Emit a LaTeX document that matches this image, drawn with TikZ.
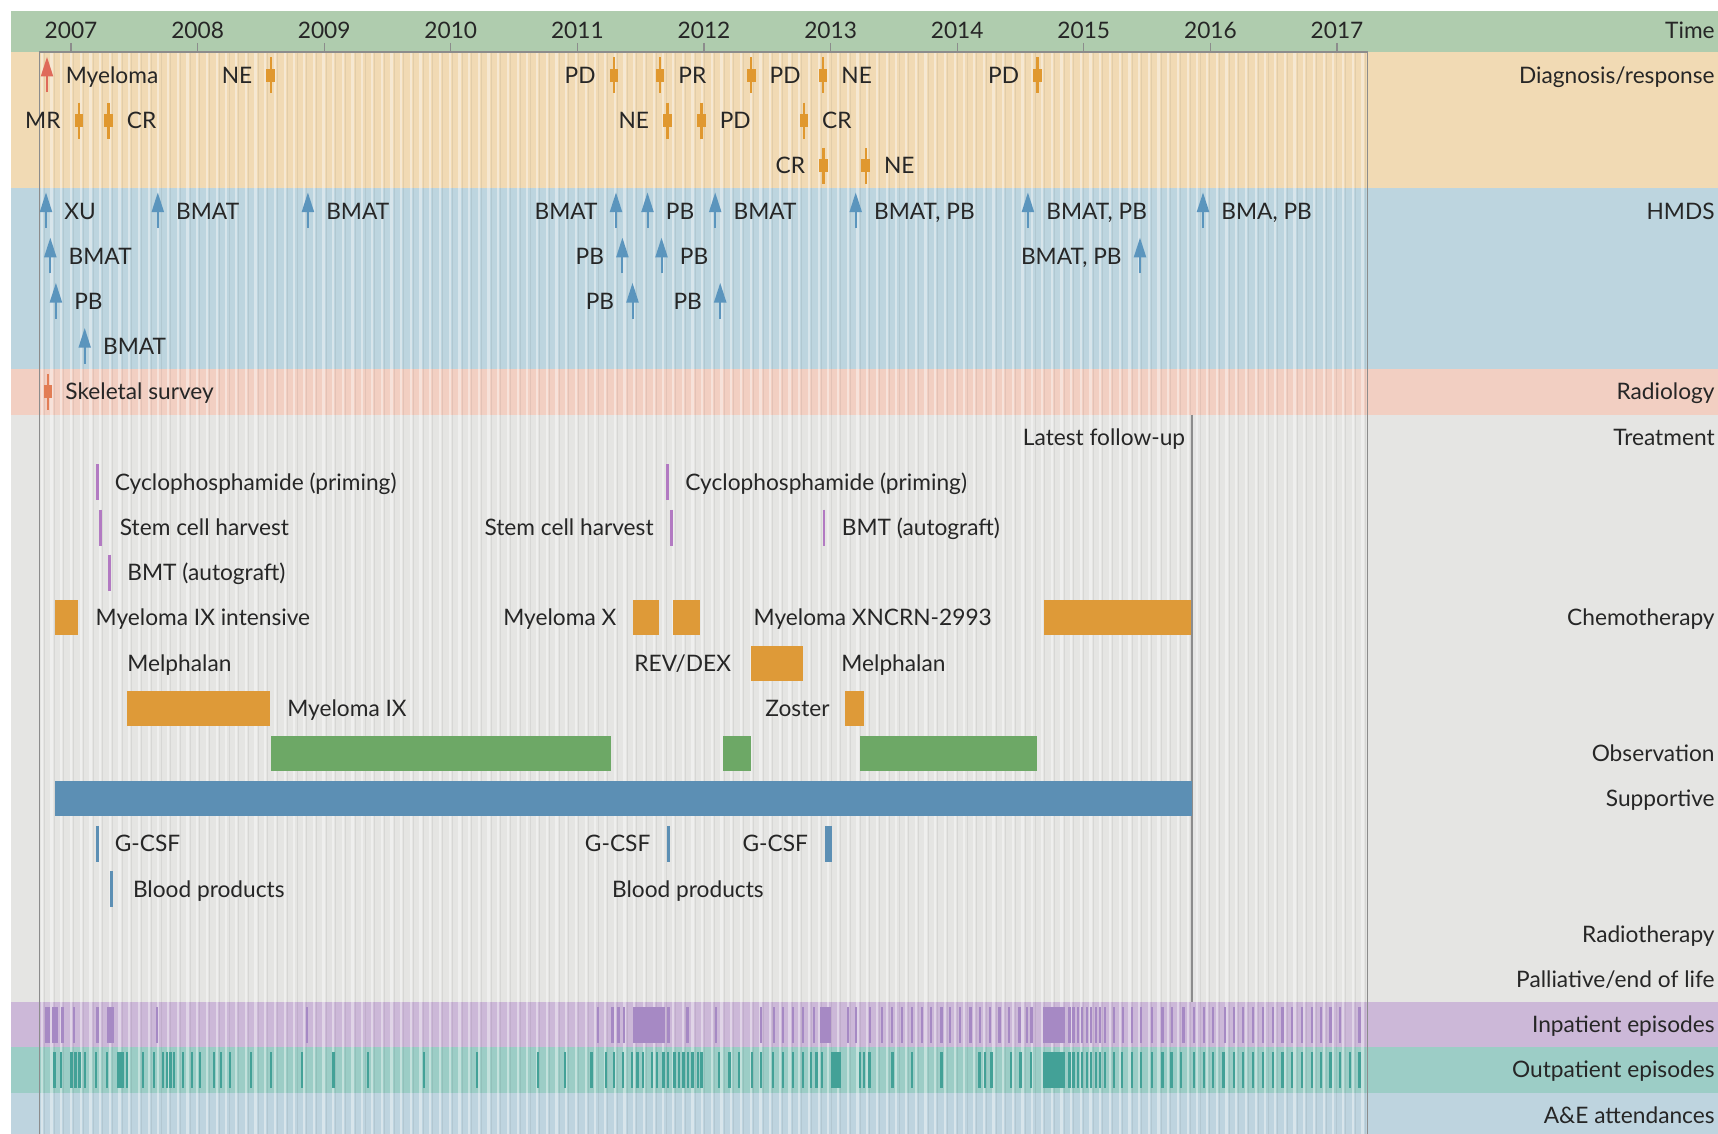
\documentclass[tikz,border=0pt]{standalone}
\usepackage{fontspec}
\setmainfont{Lato}
\definecolor{txtc}{HTML}{262626}
\definecolor{timec}{HTML}{AFCCAE}
\definecolor{diagc}{HTML}{F1DAB4}
\definecolor{hmdsc}{HTML}{BDD5DF}
\definecolor{radbg}{HTML}{F2CFC2}
\definecolor{treatc}{HTML}{E5E5E3}
\definecolor{inpc}{HTML}{CCB8D8}
\definecolor{outc}{HTML}{9CCDC6}
\definecolor{aec}{HTML}{BED4DF}
\definecolor{orc}{HTML}{E0982F}
\definecolor{obarc}{HTML}{DE9A38}
\definecolor{redc}{HTML}{DF6A5A}
\definecolor{bluec}{HTML}{5B95BD}
\definecolor{radc}{HTML}{E27D55}
\definecolor{purc}{HTML}{B27AC2}
\definecolor{greenc}{HTML}{6DA866}
\definecolor{bbarc}{HTML}{5C8FB4}
\definecolor{inpbar}{HTML}{A689C4}
\definecolor{outbar}{HTML}{43A197}
\definecolor{framec}{HTML}{8C8C8C}
\newcommand\Lab[5]{\node[txt,anchor=base #2] (#1) at (#3,#4+8) {#5};}
\newcommand\dmk[3]{\draw[#1,line width=1.1pt] (#2,#3-18) -- (#2,#3+18);
  \fill[#1] (#2-4.3,#3-6.5) rectangle (#2+4.3,#3+6.5);}
\newcommand\uarr[3]{\draw[#1,line width=1pt] (#2,#3+17) -- (#2,#3-8);
  \fill[#1] (#2,#3-18.5) -- (#2+6.3,#3+1) -- (#2-6.3,#3+1) -- cycle;}
\newcommand\tck[3]{\draw[#1,line width=1.35pt] (#2,#3-18) -- (#2,#3+18);}
\newcommand\evbar[4]{\fill[#1] (#2,#4-17.5) rectangle (#3,#4+17.5);}
\begin{document}
\begin{tikzpicture}[x=0.5pt,y=-0.5pt,
  txt/.style={font=\fontsize{11.35}{13}\selectfont,text=txtc,inner sep=0pt},
  rlab/.style={txt,anchor=base east}]
\useasboundingbox (0,0) rectangle (1718,1134);
\fill[white] (0,0) rectangle (1718,1134);
% bands
\fill[timec] (11,11) rectangle (1718,52);
\fill[diagc] (11,52) rectangle (1718,188.5);
\fill[hmdsc] (11,188.5) rectangle (1718,369.3);
\fill[radbg] (11,369.3) rectangle (1718,414.5);
\fill[treatc] (11,414.5) rectangle (1718,1002.1);
\fill[inpc] (11,1002.1) rectangle (1718,1047.3);
\fill[outc] (11,1047.3) rectangle (1718,1092.5);
\fill[aec] (11,1092.5) rectangle (1718,1134);
% grid
\foreach \i in {-3,...,133}{
  \pgfmathsetmacro\gx{71+9.71*\i}
  \draw[white,opacity=0.4,line width=1.1pt] (\gx,52) -- (\gx,1134);
  \draw[black,opacity=0.06,line width=0.4pt] (\gx+2.6,52) -- (\gx+2.6,1134);
}
% frame and axis
\draw[framec,line width=0.7pt] (39.5,1134) -- (39.5,52) -- (1367.5,52) -- (1367.5,1134);
\foreach \yr [count=\k from 0] in {2007,...,2017}{
  \pgfmathsetmacro\tx{71+126.6*\k}
  \draw[framec,line width=0.6pt] (\tx,43) -- (\tx,52);
  \node[txt,anchor=base] (y\yr) at (\tx,38.3) {\yr};
}
% right labels
\node[rlab] (rTime) at (1715,38.3) {Time};
\node[rlab] (rDiag) at (1715,83.5) {Diagnosis/response};
\node[rlab] (rHMDS) at (1715,219.1) {HMDS};
\node[rlab] (rRad) at (1715,399.9) {Radiology};
\node[rlab] (rTreat) at (1715,445.1) {Treatment};
\node[rlab] (rChemo) at (1715,625.9) {Chemotherapy};
\node[rlab] (rObs) at (1715,761.5) {Observation};
\node[rlab] (rSup) at (1715,806.7) {Supportive};
\node[rlab] (rRadio) at (1715,942.3) {Radiotherapy};
\node[rlab] (rPall) at (1715,987.5) {Palliative/end of life};
\node[rlab] (rInp) at (1715,1032.7) {Inpatient episodes};
\node[rlab] (rOut) at (1715,1077.9) {Outpatient episodes};
\node[rlab] (rAE) at (1715,1123.1) {A\&E attendances};
% diagnosis/response
\uarr{redc}{47}{75.5}\Lab{d1}{west}{65.5}{75.5}{Myeloma}
\dmk{orc}{270.6}{75.5}\Lab{d2}{east}{252.6}{75.5}{NE}
\dmk{orc}{614}{75.5}\Lab{d3}{east}{596}{75.5}{PD}
\dmk{orc}{660}{75.5}\Lab{d4}{west}{678}{75.5}{PR}
\dmk{orc}{751.2}{75.5}\Lab{d5}{west}{769.2}{75.5}{PD}
\dmk{orc}{823}{75.5}\Lab{d6}{west}{841}{75.5}{NE}
\dmk{orc}{1037.4}{75.5}\Lab{d7}{east}{1019.4}{75.5}{PD}
\dmk{orc}{78.9}{120.7}\Lab{d8}{east}{60.9}{120.7}{MR}
\dmk{orc}{108.5}{120.7}\Lab{d9}{west}{126.5}{120.7}{CR}
\dmk{orc}{667.4}{120.7}\Lab{d10}{east}{649.4}{120.7}{NE}
\dmk{orc}{701.4}{120.7}\Lab{d11}{west}{719.4}{120.7}{PD}
\dmk{orc}{803.8}{120.7}\Lab{d12}{west}{821.8}{120.7}{CR}
\dmk{orc}{823.5}{165.9}\Lab{d13}{east}{805.5}{165.9}{CR}
\dmk{orc}{865.7}{165.9}\Lab{d14}{west}{883.7}{165.9}{NE}
% HMDS
\uarr{bluec}{46}{211.1}\Lab{h1}{west}{64}{211.1}{XU}
\uarr{bluec}{157.8}{211.1}\Lab{h2}{west}{175.8}{211.1}{BMAT}
\uarr{bluec}{307.9}{211.1}\Lab{h3}{west}{325.9}{211.1}{BMAT}
\uarr{bluec}{616}{211.1}\Lab{h4}{east}{598}{211.1}{BMAT}
\uarr{bluec}{647.5}{211.1}\Lab{h5}{west}{665.5}{211.1}{PB}
\uarr{bluec}{715.2}{211.1}\Lab{h6}{west}{733.2}{211.1}{BMAT}
\uarr{bluec}{855.7}{211.1}\Lab{h7}{west}{873.7}{211.1}{BMAT, PB}
\uarr{bluec}{1027.9}{211.1}\Lab{h8}{west}{1045.9}{211.1}{BMAT, PB}
\uarr{bluec}{1203}{211.1}\Lab{h9}{west}{1221}{211.1}{BMA, PB}
\uarr{bluec}{50.3}{256.3}\Lab{h10}{west}{68.3}{256.3}{BMAT}
\uarr{bluec}{622.4}{256.3}\Lab{h11}{east}{604.4}{256.3}{PB}
\uarr{bluec}{661.5}{256.3}\Lab{h12}{west}{679.5}{256.3}{PB}
\uarr{bluec}{1140}{256.3}\Lab{h13}{east}{1122}{256.3}{BMAT, PB}
\uarr{bluec}{55.9}{301.5}\Lab{h14}{west}{73.9}{301.5}{PB}
\uarr{bluec}{632.5}{301.5}\Lab{h15}{east}{614.5}{301.5}{PB}
\uarr{bluec}{720.2}{301.5}\Lab{h16}{east}{702.2}{301.5}{PB}
\uarr{bluec}{84.7}{346.7}\Lab{h17}{west}{102.7}{346.7}{BMAT}
% radiology
\dmk{radc}{47.8}{391.9}\Lab{r1}{west}{65}{391.9}{Skeletal survey}
% treatment
\draw[framec,line width=0.7pt] (1192,414.5) coordinate (fuTop) -- (1192,1002.1) coordinate (fuBot);
\Lab{t0}{east}{1185.5}{437.1}{Latest follow-up}
\tck{purc}{97.4}{482.3}\Lab{t1}{west}{114.5}{482.3}{Cyclophosphamide (priming)}
\tck{purc}{667.3}{482.3}\Lab{t2}{west}{685}{482.3}{Cyclophosphamide (priming)}
\tck{purc}{100.7}{527.5}\Lab{t3}{west}{119.5}{527.5}{Stem cell harvest}
\tck{purc}{671.7}{527.5}\Lab{t4}{east}{654}{527.5}{Stem cell harvest}
\tck{purc}{824}{527.5}\Lab{t5}{west}{841.5}{527.5}{BMT (autograft)}
\tck{purc}{109.4}{572.7}\Lab{t6}{west}{127}{572.7}{BMT (autograft)}
% chemotherapy
\evbar{obarc}{54.8}{77.8}{617.9}\Lab{c1}{west}{95.3}{617.9}{Myeloma IX intensive}
\Lab{c2}{east}{616.7}{617.9}{Myeloma X}
\evbar{obarc}{633.3}{659}{617.9}
\evbar{obarc}{672.7}{700}{617.9}
\Lab{c3}{west}{753.3}{617.9}{Myeloma XNCRN-2993}
\evbar{obarc}{1044.2}{1191}{617.9}
\Lab{c4}{west}{127}{663.1}{Melphalan}
\Lab{c5}{west}{634}{663.1}{REV/DEX}
\evbar{obarc}{750.7}{803.3}{663.1}
\Lab{c6}{west}{841}{663.1}{Melphalan}
\evbar{obarc}{127.1}{269.5}{708.3}\Lab{c7}{west}{287}{708.3}{Myeloma IX}
\Lab{c8}{east}{830}{708.3}{Zoster}
\evbar{obarc}{845}{864.3}{708.3}
% observation
\evbar{greenc}{270.6}{611.4}{753.5}
\evbar{greenc}{723.2}{750.6}{753.5}
\evbar{greenc}{860.1}{1036.5}{753.5}
% supportive
\evbar{bbarc}{54.8}{1192}{798.7}
\tck{bbarc}{97.5}{843.9}\Lab{s1}{west}{114.5}{843.9}{G-CSF}
\tck{bbarc}{668.3}{843.9}\Lab{s2}{east}{650.7}{843.9}{G-CSF}
\fill[bbarc] (825,825.9) rectangle (831.6,861.9);
\Lab{s3}{east}{808.3}{843.9}{G-CSF}
\tck{bbarc}{111.8}{889.1}\Lab{s4}{west}{132.6}{889.1}{Blood products}
\Lab{s5}{west}{611.7}{889.1}{Blood products}
% inpatient episodes
\foreach \x in {62.5,74,97.3,157,307,598,612.5,618.3,624,668.3,687.5,716,760.7,774,783,793,803,814,847.8,856,870,882,892,902,912,922,931,941.5,950,960,970.5,980,990,999.6,1009,1019.6,1027,1031.5,1069.6,1073.6,1078,1082,1087,1091,1096,1100,1105,1114,1123,1132,1141,1152,1162.5,1172,1183.5,1194,1204,1213,1225,1234,1243,1253,1263,1273,1282.6,1292,1302,1311.7,1321,1330.5,1340,1359.6}
  \draw[inpbar,line width=1.2pt] (\x,1007) -- (\x,1043);
\foreach \a/\b in {44.5/50,51.5/57.5,106.5/114,633/665,819.6/830.8,1042.9/1065}
  \fill[inpbar] (\a,1007) rectangle (\b,1043);
% outpatient episodes
\foreach \x in {54.5,61.2,71.5,75.5,79.5,84.8,96,107,127,143,154,163,167,170.5,174,183,192,200,214,221,230,251,271,302,333.5,368,424,477,538,565,591.5,606,614,623,632,637.5,643,652,656.7,663.4,668,674.5,679,683.5,688,692.4,698,701.5,719,729.5,739,752,760.7,772.8,783,793,803,810.7,816.5,822,859.8,864,869.6,892.4,912,941.5,979.5,985,991.5,1010.7,1020.5,1030.8,1069.6,1073.6,1078,1082,1087,1091,1096,1100,1105,1114,1122,1132,1141,1152,1162.5,1171.4,1181,1193.8,1204,1213,1234,1243,1253,1263,1273,1282.6,1292,1302,1311.7,1321,1330.5,1340,1350,1359.6}
  \draw[outbar,line width=1.2pt] (\x,1052) -- (\x,1088);
\foreach \a/\b in {117/124,830.8/841,1042.9/1065,1221.5/1225}
  \fill[outbar] (\a,1052) rectangle (\b,1088);
\end{tikzpicture}
\end{document}
